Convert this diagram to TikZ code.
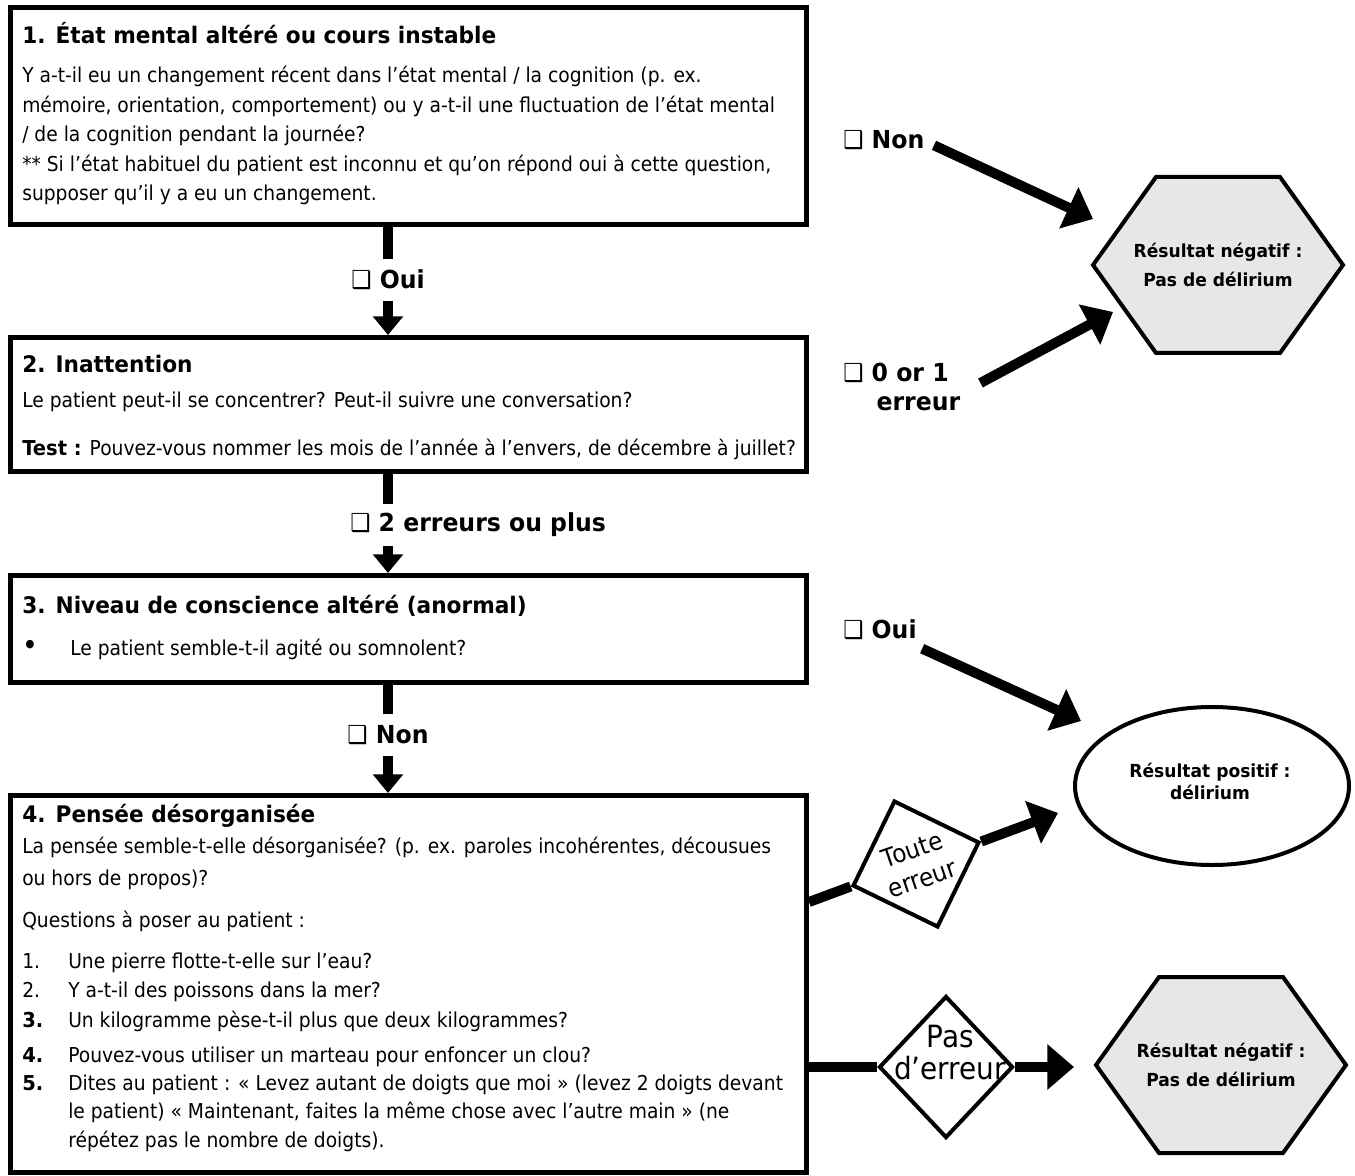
\documentclass[tikz,border=0pt]{standalone}
\usepackage{fontspec}
\newfontfamily\tah[FakeStretch=0.91]{DejaVu Sans}
\newfontfamily\tahb[FakeStretch=0.95]{DejaVu Sans}
\usetikzlibrary{arrows.meta,shapes.geometric,calc}
\definecolor{hexgray}{RGB}{230,231,232}
\newcommand\ckbx{{\tah\mdseries\char"2751}}
\newcommand\txtblock[1]{\parbox[t]{590pt}{\raggedright #1}}
\begin{document}
\begin{tikzpicture}[x=0.75pt,y=-0.75pt,
 box/.style={draw, line width=3.75pt, fill=white, anchor=north west, inner sep=0pt, minimum width=597pt},
 body/.style={anchor=base west, inner sep=0pt, font=\tah\fontsize{15.4}{22.1}\selectfont},
 ttl/.style={anchor=base west, inner sep=0pt, font=\tahb\bfseries\fontsize{17.1}{20}\selectfont},
 lbl/.style={inner sep=0pt, font=\tahb\bfseries\fontsize{18.6}{22}\selectfont},
 vlbl/.style={lbl, minimum height=31.5pt},
 vline/.style={line width=7.5pt},
 varr/.style={line width=7.5pt, -{Triangle[length=14pt,width=22pt]}},
 darr/.style={line width=7.5pt, -{Triangle[length=20pt,width=33pt]}},
 shp/.style={draw, line width=3pt},
 restxt/.style={align=center, inner sep=0pt, font=\tahb\bfseries\fontsize{13.5}{22}\selectfont},
 dtxt/.style={align=center, inner sep=0pt, font=\tah\fontsize{19}{23}\selectfont}
]
\useasboundingbox (0,0) rectangle (1355,1176);
\fill[white] (0,0) rectangle (1355,1176);

% boxes
\node[box, minimum height=162.75pt] (box1) at (8,5) {};
\node[box, minimum height=100.5pt] (box2) at (8,335) {};
\node[box, minimum height=80.25pt] (box3) at (8,573) {};
\node[box, minimum height=282.75pt] (box4) at (8,793) {};

% box 1
\node[ttl] (h1) at (22,44) {1. État mental altéré ou cours instable};
\node[body] (b1) at (22,83) {\txtblock{Y a-t-il eu un changement récent dans l’état mental / la cognition (p. ex.\\
mémoire, orientation, comportement) ou y a-t-il une fluctuation de l’état mental\\
/ de la cognition pendant la journée?\\
{}** Si l’état habituel du patient est inconnu et qu’on répond oui à cette question,\\
supposer qu’il y a eu un changement.}};

% box 2
\node[ttl] (h2) at (22,373) {2. Inattention};
\node[body] (b2a) at (22,407) {Le patient peut-il se concentrer? Peut-il suivre une conversation?};
\node[body] (b2b) at (22,455) {{\tahb\bfseries Test :} Pouvez-vous nommer les mois de l’année à l’envers, de décembre à juillet?};

% box 3
\node[ttl] (h3) at (22,613) {3. Niveau de conscience altéré (anormal)};
\node[body] (b3) at (22,655) {\makebox[36pt][l]{\fontsize{22}{22}\selectfont\textbullet}Le patient semble-t-il agité ou somnolent?};

% box 4
\node[ttl] (h4) at (22,822) {4. Pensée désorganisée};
\node[body, font=\tah\fontsize{15.4}{22}\selectfont] (b4) at (22,853) {\txtblock{La pensée semble-t-elle désorganisée? (p. ex. paroles incohérentes, décousues\\[2pt]
ou hors de propos)?\\[9.5pt]
Questions à poser au patient :\\[8.8pt]
\makebox[34.5pt][l]{1.}Une pierre flotte-t-elle sur l’eau?\\
\makebox[34.5pt][l]{2.}Y a-t-il des poissons dans la mer?\\[0.5pt]
\makebox[34.5pt][l]{\tahb\bfseries 3.}Un kilogramme pèse-t-il plus que deux kilogrammes?\\[4.3pt]
\makebox[34.5pt][l]{\tahb\bfseries 4.}Pouvez-vous utiliser un marteau pour enfoncer un clou?\\[-1pt]
\makebox[34.5pt][l]{\tahb\bfseries 5.}Dites au patient : « Levez autant de doigts que moi » (levez 2 doigts devant\\[-1pt]
\hspace*{34.5pt}le patient) « Maintenant, faites la même chose avec l’autre main » (ne\\
\hspace*{34.5pt}répétez pas le nombre de doigts).}};

% vertical connectors
\coordinate (cx) at (388,0);
\node[vlbl] (lOui) at (388,280) {\ckbx\ Oui};
\draw[vline] (box1.south -| cx) -- (lOui.north -| cx);
\draw[varr] (lOui.south -| cx) -- (box2.north -| cx);

\node[vlbl, anchor=west] (l2e) at (350,525) {\ckbx\ 2 erreurs ou plus};
\draw[vline] (box2.south -| cx) -- (l2e.north -| cx);
\draw[varr] (l2e.south -| cx) -- (box3.north -| cx);

\node[vlbl] (lNon) at (388,735) {\ckbx\ Non};
\draw[vline] (box3.south -| cx) -- (lNon.north -| cx);
\draw[varr] (lNon.south -| cx) -- (box4.north -| cx);

% hexagon 1
\coordinate (hc1) at (1218,265);
\draw[shp, fill=hexgray] ($(hc1)+(-125,0)$) -- ($(hc1)+(-62,-88)$) -- ($(hc1)+(62,-88)$) -- ($(hc1)+(125,0)$) -- ($(hc1)+(62,88)$) -- ($(hc1)+(-62,88)$) -- cycle;
\node[restxt] (hx1) at (hc1) {Résultat négatif :\\Pas de délirium};

% hexagon 2
\coordinate (hc2) at (1221,1065);
\draw[shp, fill=hexgray] ($(hc2)+(-125,0)$) -- ($(hc2)+(-62,-88)$) -- ($(hc2)+(62,-88)$) -- ($(hc2)+(125,0)$) -- ($(hc2)+(62,88)$) -- ($(hc2)+(-62,88)$) -- cycle;
\node[restxt] (hx2) at (hc2) {Résultat négatif :\\Pas de délirium};

% ellipse
\node[shp, ellipse, fill=white, minimum width=205.5pt, minimum height=118.5pt, inner sep=0pt] (ell) at (1212,786) {};
\node[restxt, font=\tahb\bfseries\fontsize{13.5}{16.5}\selectfont] (elt) at (1210,781) {Résultat positif :\\délirium};

% right labels and arrows
\node[lbl, anchor=west] (rNon) at (843,140) {\ckbx\ Non};
\node[lbl, anchor=west, align=left] (r01) at (843,387) {\ckbx\ 0 or 1\\\hspace*{25pt}erreur};
\node[lbl, anchor=west] (rOui) at (843,630) {\ckbx\ Oui};

\coordinate (nH) at (1093,219);
\coordinate (zH) at (1113,312);
\coordinate (oH) at (1081,721);
\draw[darr] ([xshift=7pt,yshift=-4pt]rNon.east) -- (nH);
\draw[darr] ([xshift=15pt,yshift=3pt]r01.east) -- (zH);
\draw[darr] ([xshift=4pt,yshift=-14pt]rOui.east) -- (oH);

% diamonds
\node[shp, diamond, fill=white, minimum width=100.5pt, minimum height=100.5pt, inner sep=0pt, rotate=19] (dA) at (916,864) {};
\node[dtxt, rotate=19] (tA) at ([xshift=1pt]dA.center) {Toute\\erreur};
\node[shp, diamond, fill=white, minimum width=100.5pt, minimum height=106.5pt, inner sep=0pt] (dB) at (946,1067) {};
\node[dtxt, font=\tah\fontsize{23}{24}\selectfont] (tB) at (950,1053) {Pas\\d’erreur};

\coordinate (tT) at (1058,813);
\coordinate (tP) at (1074,1067);
\draw[vline] (box4.east |- 0,902) -- (dA.west);
\draw[darr] (dA.east) -- (tT);
\draw[vline] (box4.east |- dB.west) -- (dB.west);
\draw[darr] (dB.east) -- (tP);
\end{tikzpicture}
\end{document}
